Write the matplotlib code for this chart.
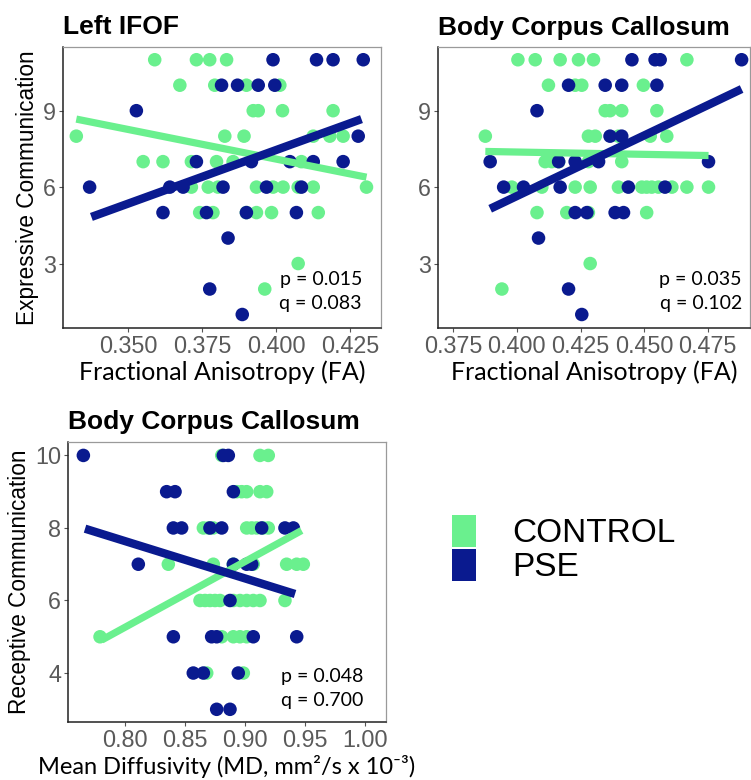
import matplotlib
matplotlib.use("Agg")
import matplotlib.pyplot as plt
from matplotlib.patches import Patch

plt.rcParams["font.family"] = ["Liberation Sans", "DejaVu Sans"]

green = "#6AF08E"
navy = "#0A1A8F"
calibri_like = ["Lato", "DejaVu Sans"]

# Left IFOF, expressive communication vs FA
ifof_ctrl_x = [0.359, 0.3731, 0.3776, 0.3833, 0.3675, 0.3793, 0.390, 0.4013,
               0.3923, 0.394, 0.4022, 0.4193, 0.3325, 0.3827, 0.3892, 0.4126,
               0.4182, 0.4227, 0.3551, 0.3618, 0.3714, 0.3799, 0.3855, 0.4086,
               0.3714, 0.3771, 0.3804, 0.3934, 0.399, 0.4024, 0.4075, 0.4126,
               0.4306, 0.3742, 0.3787, 0.390, 0.3934, 0.3985, 0.4143, 0.4075,
               0.3962]
ifof_ctrl_y = [11, 11, 11, 11, 10, 10, 10, 10, 9, 9, 9, 9, 8, 8, 8, 8, 8, 8,
               7, 7, 7, 7, 7, 7, 6, 6, 6, 6, 6, 6, 6, 6, 6, 5, 5, 5, 5, 5, 5,
               3, 2]
ifof_pse_x = [0.399, 0.4137, 0.4193, 0.4295, 0.3816, 0.387, 0.394, 0.3996,
              0.3528, 0.4278, 0.3731, 0.3917, 0.4047, 0.4126, 0.4227, 0.337,
              0.3641, 0.3686, 0.3821, 0.3968, 0.4086, 0.3618, 0.3765, 0.390,
              0.4069, 0.3838, 0.3776, 0.3886]
ifof_pse_y = [11, 11, 11, 11, 10, 10, 10, 10, 9, 8, 7, 7, 7, 7, 7,
              6, 6, 6, 6, 6, 6, 5, 5, 5, 5, 4, 2, 1]
ifof_ctrl_fit_x = [0.3325, 0.4306]
ifof_ctrl_fit_y = [8.67, 6.39]
ifof_pse_fit_x = [0.3376, 0.4289]
ifof_pse_fit_y = [4.83, 8.67]

# Body corpus callosum, expressive communication vs FA
bcc_fa_ctrl_x = [0.4004, 0.4072, 0.417, 0.4242, 0.4301, 0.4668, 0.4124, 0.4229,
                 0.4255, 0.4497, 0.4347, 0.4366, 0.4412, 0.455, 0.3876, 0.4281,
                 0.4308, 0.4399, 0.4524, 0.4589, 0.4111, 0.4137, 0.4164, 0.4281,
                 0.4412, 0.398, 0.4098, 0.4229, 0.4288, 0.4399, 0.4491, 0.451,
                 0.453, 0.4556, 0.4609, 0.4668, 0.4753, 0.4079, 0.4196, 0.4281,
                 0.451, 0.4288, 0.3941]
bcc_fa_ctrl_y = [11, 11, 11, 11, 11, 11, 10, 10, 10, 10, 9, 9, 9, 9,
                 8, 8, 8, 8, 8, 8, 7, 7, 7, 7, 7,
                 6, 6, 6, 6, 6, 6, 6, 6, 6, 6, 6, 6, 5, 5, 5, 5, 3, 2]
bcc_fa_pse_x = [0.4452, 0.4543, 0.4563, 0.4883, 0.4203, 0.4347, 0.4412, 0.455,
                0.4079, 0.4366, 0.4412, 0.3895, 0.4164, 0.4229, 0.4321, 0.4753,
                0.3948, 0.4026, 0.417, 0.4438, 0.4582, 0.4229, 0.4275, 0.4386,
                0.4419, 0.4085, 0.4203, 0.4255]
bcc_fa_pse_y = [11, 11, 11, 11, 10, 10, 10, 10, 9, 8, 8, 7, 7, 7, 7, 7,
                6, 6, 6, 6, 6, 5, 5, 5, 5, 4, 2, 1]
bcc_fa_ctrl_fit_x = [0.3876, 0.4753]
bcc_fa_ctrl_fit_y = [7.40, 7.24]
bcc_fa_pse_fit_x = [0.3895, 0.4883]
bcc_fa_pse_fit_y = [5.15, 9.85]

# Body corpus callosum, receptive communication vs MD
bcc_md_ctrl_x = [0.8806, 0.9125, 0.9194, 0.8931, 0.8972, 0.9014, 0.9125, 0.9181,
                 0.8653, 0.8694, 0.8736, 0.9014, 0.9056, 0.9097, 0.9153, 0.9194,
                 0.8361, 0.8736, 0.8903, 0.9069, 0.9347, 0.9431, 0.9486, 0.8625,
                 0.8667, 0.8708, 0.875, 0.8792, 0.8903, 0.8958, 0.9014, 0.9069,
                 0.9125, 0.9333, 0.7792, 0.8806, 0.8903, 0.8958, 0.9014, 0.8681,
                 0.8986]
bcc_md_ctrl_y = [10, 10, 10, 9, 9, 9, 9, 9, 8, 8, 8, 8, 8, 8, 8, 8,
                 7, 7, 7, 7, 7, 7, 7, 6, 6, 6, 6, 6, 6, 6, 6, 6, 6, 6,
                 5, 5, 5, 5, 5, 4, 4]
bcc_md_pse_x = [0.7653, 0.8819, 0.8861, 0.8347, 0.8417, 0.8903, 0.8403, 0.8472,
                0.8708, 0.8806, 0.9139, 0.9333, 0.9403, 0.8111, 0.8903, 0.9014,
                0.9056, 0.8875, 0.8403, 0.8722, 0.8764, 0.9069, 0.9431, 0.8569,
                0.8653, 0.8944, 0.8764, 0.8875]
bcc_md_pse_y = [10, 10, 10, 9, 9, 9, 8, 8, 8, 8, 8, 8, 8, 7, 7, 7, 7, 6,
                5, 5, 5, 5, 5, 4, 4, 4, 3, 3]
bcc_md_ctrl_fit_x = [0.7806, 0.9472]
bcc_md_ctrl_fit_y = [4.91, 7.93]
bcc_md_pse_fit_x = [0.7667, 0.9417]
bcc_md_pse_fit_y = [7.98, 6.18]

fa_ticks_1 = [0.350, 0.375, 0.400, 0.425]
fa_ticks_2 = [0.375, 0.400, 0.425, 0.450, 0.475]
md_ticks = [0.80, 0.85, 0.90, 0.95, 1.00]
expr_ticks = [3, 6, 9]
recep_ticks = [4, 6, 8, 10]

stats_1 = "p = 0.015\nq = 0.083"
stats_2 = "p = 0.035\nq = 0.102"
stats_3 = "p = 0.048\nq = 0.700"


def style_axes(ax):
    for side in ["top", "right"]:
        ax.spines[side].set_color("#9a9a9a")
        ax.spines[side].set_linewidth(0.9)
    for side in ["left", "bottom"]:
        ax.spines[side].set_color("#222222")
        ax.spines[side].set_linewidth(1.1)
    ax.tick_params(length=3, width=0.8, color="#555555", labelcolor="#5a5a5a",
                   labelsize=16.8, pad=2)


def draw_panel(ax, cx, cy, px, py, cfx, cfy, pfx, pfy):
    ax.scatter(cx, cy, s=95, color=green, edgecolors="none", zorder=2)
    ax.scatter(px, py, s=95, color=navy, edgecolors="none", zorder=2)
    ax.plot(cfx, cfy, color=green, lw=5.2, solid_capstyle="butt", zorder=3)
    ax.plot(pfx, pfy, color=navy, lw=6.0, solid_capstyle="butt", zorder=4)
    style_axes(ax)


fig = plt.figure(figsize=(7.51, 7.80), dpi=100)

ax1 = fig.add_axes([63 / 751, 1 - 328 / 780, 318 / 751, 281 / 780])
draw_panel(ax1, ifof_ctrl_x, ifof_ctrl_y, ifof_pse_x, ifof_pse_y,
           ifof_ctrl_fit_x, ifof_ctrl_fit_y, ifof_pse_fit_x, ifof_pse_fit_y)
ax1.set_xlim(0.328, 0.4355)
ax1.set_ylim(0.47, 11.5)
ax1.set_xticks(fa_ticks_1, [f"{t:.3f}" for t in fa_ticks_1])
ax1.set_yticks(expr_ticks)
ax1.set_title("Left IFOF", loc="left", fontsize=19, fontweight="bold", pad=9)
ax1.set_ylabel("Expressive Communication", fontsize=16.3, labelpad=3)
ax1.set_xlabel("Fractional Anisotropy (FA)", fontsize=18, family=calibri_like,
               labelpad=2)
ax1.text(0.94, 0.13, stats_1, transform=ax1.transAxes, ha="right", va="center",
         fontsize=14, family=calibri_like, linespacing=1.45)

ax2 = fig.add_axes([438 / 751, 1 - 328 / 780, 312 / 751, 281 / 780])
draw_panel(ax2, bcc_fa_ctrl_x, bcc_fa_ctrl_y, bcc_fa_pse_x, bcc_fa_pse_y,
           bcc_fa_ctrl_fit_x, bcc_fa_ctrl_fit_y, bcc_fa_pse_fit_x, bcc_fa_pse_fit_y)
ax2.set_xlim(0.369, 0.4916)
ax2.set_ylim(0.47, 11.5)
ax2.set_xticks(fa_ticks_2, [f"{t:.3f}" for t in fa_ticks_2])
ax2.set_yticks(expr_ticks)
ax2.set_title("Body Corpus Callosum", loc="left", fontsize=19,
              fontweight="bold", pad=9)
ax2.set_xlabel("Fractional Anisotropy (FA)", fontsize=18, family=calibri_like,
               labelpad=2)
ax2.text(0.974, 0.13, stats_2, transform=ax2.transAxes, ha="right", va="center",
         fontsize=14, family=calibri_like, linespacing=1.45)

ax3 = fig.add_axes([68 / 751, 1 - 722 / 780, 318 / 751, 280 / 780])
draw_panel(ax3, bcc_md_ctrl_x, bcc_md_ctrl_y, bcc_md_pse_x, bcc_md_pse_y,
           bcc_md_ctrl_fit_x, bcc_md_ctrl_fit_y, bcc_md_pse_fit_x, bcc_md_pse_fit_y)
ax3.set_xlim(0.7525, 1.0175)
ax3.set_ylim(2.65, 10.37)
ax3.set_xticks(md_ticks, [f"{t:.2f}" for t in md_ticks])
ax3.set_yticks(recep_ticks)
ax3.set_title("Body Corpus Callosum", loc="left", fontsize=19,
              fontweight="bold", pad=9)
ax3.set_ylabel("Receptive Communication", fontsize=16.3, labelpad=3)
ax3.set_xlabel("Mean Diffusivity (MD, mm²/s x 10⁻³)", fontsize=17,
               family=calibri_like, labelpad=2)
ax3.text(0.928, 0.12, stats_3, transform=ax3.transAxes, ha="right", va="center",
         fontsize=14, family=calibri_like, linespacing=1.45)

handles = [Patch(facecolor=green, edgecolor="none"),
           Patch(facecolor=navy, edgecolor="none")]
fig.legend(handles, ["CONTROL", "PSE"], loc="upper left",
           bbox_to_anchor=(452 / 751, 1 - 515 / 780), frameon=False,
           fontsize=24, handlelength=0.72, handleheight=1.08,
           labelspacing=0.0, handletextpad=1.1, borderpad=0, borderaxespad=0)

fig.savefig("out.png", dpi=100)
